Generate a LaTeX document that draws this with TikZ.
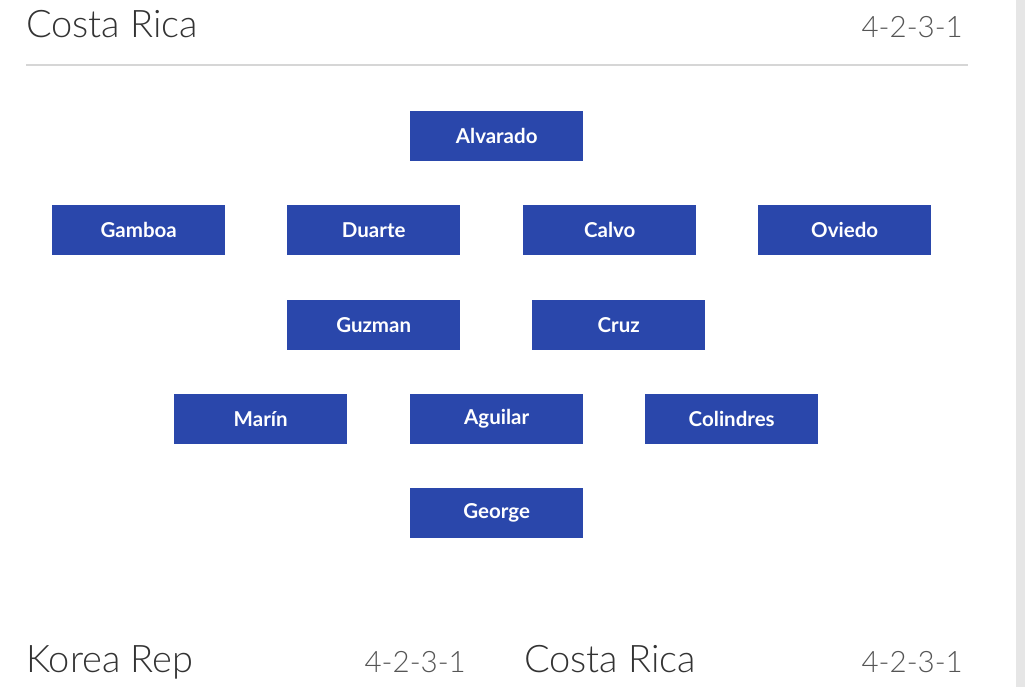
\documentclass[tikz,border=0pt]{standalone}
\usepackage{fontspec}
\setmainfont{Lato}
\newfontfamily\lightfont{Lato Light}
\definecolor{boxblue}{HTML}{2A47AB}
\definecolor{rulegray}{HTML}{D6D6D6}
\definecolor{stripgray}{HTML}{E6E6E6}
\definecolor{titlegray}{HTML}{333333}
\definecolor{formgray}{HTML}{555555}
\begin{document}
\begin{tikzpicture}[x=1pt,y=-1pt,
  player/.style={fill=boxblue, text=white, font=\fontsize{20.5}{22}\selectfont\bfseries,
    minimum width=173pt, minimum height=50pt, inner sep=0pt, anchor=north west},
  title/.style={font=\lightfont\fontsize{38}{42}\selectfont, text=titlegray, inner sep=0pt},
  form/.style={font=\lightfont\fontsize{29.5}{34}\selectfont, text=formgray, inner sep=0pt}]
\useasboundingbox (0,0) rectangle (1025,687);
\fill[white] (0,0) rectangle (1025,687);
\fill[stripgray] (1016,0) rectangle (1025,687);
\node[title, anchor=base west] (t1) at (26,38) {Costa Rica};
\node[form, anchor=base east] (f1) at (963,38) {4-2-3-1};
\draw[rulegray, line width=2pt] (26,65) -- (968,65);
\node[player] (alvarado) at (410,111) {Alvarado};
\node[player] (gamboa) at (52,205) {Gamboa};
\node[player] (duarte) at (287,205) {Duarte};
\node[player] (calvo) at (523,205) {Calvo};
\node[player] (oviedo) at (758,205) {Oviedo};
\node[player] (guzman) at (287,300) {Guzman};
\node[player] (cruz) at (532,300) {Cruz};
\node[player] (marin) at (174,394) {Marín};
\node[player] (aguilar) at (410,394) {Aguilar};
\node[player] (colindres) at (645,394) {Colindres};
\node[player] (george) at (410,488) {George};
\node[title, anchor=base west] (t2) at (26,672) {Korea Rep};
\node[form, anchor=base east] (f2) at (466,672) {4-2-3-1};
\node[title, anchor=base west] (t3) at (524,672) {Costa Rica};
\node[form, anchor=base east] (f3) at (963,672) {4-2-3-1};
\end{tikzpicture}
\end{document}
